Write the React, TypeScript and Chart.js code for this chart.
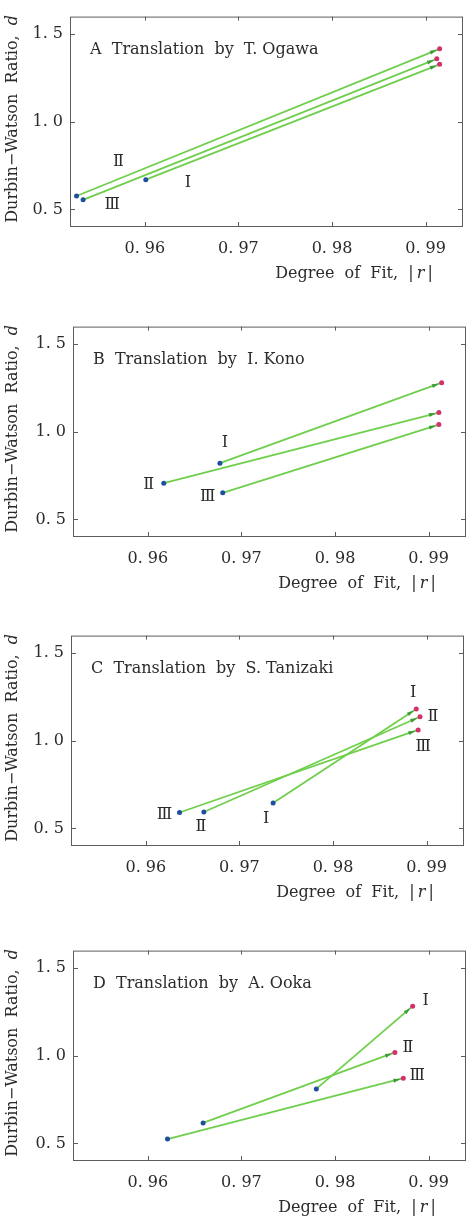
import { useEffect, useRef } from 'react';
import { Chart, registerables } from 'chart.js';

Chart.register(...registerables);

// axis ticks
const fitTicks = [0.96, 0.97, 0.98, 0.99];
const fitTickLabels = ['0. 96', '0. 97', '0. 98', '0. 99'];
const dwTicks = [0.5, 1.0, 1.5];
const dwTickLabels = ['0. 5', '1. 0', '1. 5'];
const seriesNames = ['Ⅰ', 'Ⅱ', 'Ⅲ'];

// A  Translation by T. Ogawa  (series I, II, III)
const fitStartA = [0.9601, 0.9527, 0.9534];
const dwStartA = [0.670, 0.577, 0.555];
const fitEndA = [0.9915, 0.9915, 0.9912];
const dwEndA = [1.328, 1.416, 1.359];

// B  Translation by I. Kono
const fitStartB = [0.9677, 0.9617, 0.9680];
const dwStartB = [0.821, 0.707, 0.652];
const fitEndB = [0.9914, 0.9911, 0.9911];
const dwEndB = [1.280, 1.110, 1.041];

// C  Translation by S. Tanizaki
const fitStartC = [0.9736, 0.9662, 0.9636];
const dwStartC = [0.645, 0.594, 0.591];
const fitEndC = [0.9889, 0.9893, 0.9891];
const dwEndC = [1.182, 1.137, 1.062];

// D  Translation by A. Ooka
const fitStartD = [0.9780, 0.9659, 0.9621];
const dwStartD = [0.811, 0.617, 0.525];
const fitEndD = [0.9883, 0.9864, 0.9873];
const dwEndD = [1.283, 1.019, 0.872];

const FONT = '"DejaVu Serif", "Liberation Serif", serif';
const NUM_FONT = '"DejaVu Serif", "Noto Sans CJK JP", serif';
const GREEN = '#6fcf4c';
const ARROW = '#3f9a3a';
const BLUE = '#1d4f9e';
const RED = '#d4306c';
const INK = '#2b2b2b';

type Label = { s: number; at: 0 | 1; dx: number; dy: number };

type PanelProps = {
  top: number;
  left: number;
  letter: string;
  translator: string;
  fitStart: number[];
  dwStart: number[];
  fitEnd: number[];
  dwEnd: number[];
  labels: Label[];
};

const W = 470;
const H = 285;
const BOX_W = 393;
const BOX_H = 224;

function drawSegments(ctx: CanvasRenderingContext2D, segs: [string, boolean][], x: number, y: number, align: 'center' | 'right') {
  const size = 16;
  const widths = segs.map(([t, it]) => {
    ctx.font = `${it ? 'italic ' : ''}${size}px ${FONT}`;
    return ctx.measureText(t).width;
  });
  const total = widths.reduce((a, b) => a + b, 0);
  let cx = align === 'center' ? x - total / 2 : x - total;
  ctx.textAlign = 'left';
  ctx.textBaseline = 'middle';
  segs.forEach(([t, it], i) => {
    ctx.font = `${it ? 'italic ' : ''}${size}px ${FONT}`;
    ctx.fillText(t, cx, y);
    cx += widths[i];
  });
}

function Panel(props: PanelProps) {
  const canvasRef = useRef<HTMLCanvasElement>(null);
  const chartRef = useRef<Chart | null>(null);

  useEffect(() => {
    if (!canvasRef.current) return;
    if (chartRef.current) chartRef.current.destroy();

    const { left, letter, translator, fitStart, dwStart, fitEnd, dwEnd, labels } = props;

    const decor = {
      id: 'decor',
      afterDraw(chart: any) {
        const { ctx, chartArea: a, scales } = chart;
        const x = scales.x;
        const y = scales.y;
        ctx.save();

        // frame with inward ticks on all four sides
        ctx.strokeStyle = '#5c5c5c';
        ctx.lineWidth = 1;
        ctx.strokeRect(a.left + 0.5, a.top + 0.5, a.right - a.left - 1, a.bottom - a.top - 1);
        ctx.beginPath();
        x.ticks.forEach((t: any) => {
          const px = Math.round(x.getPixelForValue(t.value)) + 0.5;
          ctx.moveTo(px, a.top);
          ctx.lineTo(px, a.top + 4);
          ctx.moveTo(px, a.bottom);
          ctx.lineTo(px, a.bottom - 5);
        });
        y.ticks.forEach((t: any) => {
          const py = Math.round(y.getPixelForValue(t.value)) + 0.5;
          ctx.moveTo(a.left, py);
          ctx.lineTo(a.left + 5, py);
          ctx.moveTo(a.right, py);
          ctx.lineTo(a.right - 5, py);
        });
        ctx.stroke();

        // arrowheads near the end points
        chart.data.datasets.forEach((_: any, i: number) => {
          const pts = chart.getDatasetMeta(i).data;
          const p0 = pts[0];
          const p1 = pts[1];
          const ang = Math.atan2(p1.y - p0.y, p1.x - p0.x);
          const tx = p1.x - 3 * Math.cos(ang);
          const ty = p1.y - 3 * Math.sin(ang);
          ctx.fillStyle = ARROW;
          ctx.beginPath();
          ctx.moveTo(tx, ty);
          ctx.lineTo(tx - 7 * Math.cos(ang) + 2 * Math.sin(ang), ty - 7 * Math.sin(ang) - 2 * Math.cos(ang));
          ctx.lineTo(tx - 7 * Math.cos(ang) - 2 * Math.sin(ang), ty - 7 * Math.sin(ang) + 2 * Math.cos(ang));
          ctx.closePath();
          ctx.fill();
        });

        ctx.fillStyle = INK;

        // panel title
        ctx.font = `16px ${FONT}`;
        ctx.textAlign = 'left';
        ctx.textBaseline = 'middle';
        ctx.fillText(`${letter}  Translation  by  ${translator}`, a.left + 20, a.top + 33);

        // series labels
        ctx.font = `16px ${NUM_FONT}`;
        ctx.textAlign = 'center';
        labels.forEach((l) => {
          const p = chart.getDatasetMeta(l.s).data[l.at];
          ctx.fillText(seriesNames[l.s], p.x + l.dx, p.y + l.dy);
        });

        // axis titles
        drawSegments(ctx, [['Degree  of  Fit,  |\u2009', false], ['r', true], ['\u2009|', false]], a.right - 30, a.bottom + 47, 'right');
        ctx.save();
        ctx.translate(13, (a.top + a.bottom) / 2 - 3);
        ctx.rotate(-Math.PI / 2);
        drawSegments(ctx, [['Durbin\u2212Watson  Ratio,  ', false], ['d', true]], 0, 0, 'center');
        ctx.restore();

        ctx.restore();
      },
    };

    chartRef.current = new Chart(canvasRef.current, {
      type: 'scatter',
      data: {
        datasets: seriesNames.map((name, i) => ({
          label: name,
          data: [
            { x: fitStart[i], y: dwStart[i] },
            { x: fitEnd[i], y: dwEnd[i] },
          ],
          showLine: true,
          borderColor: GREEN,
          borderWidth: 1.8,
          pointRadius: 2.5,
          pointBorderWidth: 0,
          pointBackgroundColor: [BLUE, RED],
        })),
      },
      options: {
        responsive: false,
        animation: false,
        layout: { padding: { top: 3, left: 0, right: W - left - BOX_W, bottom: 0 } },
        plugins: { legend: { display: false }, tooltip: { enabled: false } },
        scales: {
          x: {
            type: 'linear',
            min: 0.952,
            max: 0.994,
            grid: { display: false, drawTicks: false },
            border: { display: false },
            afterBuildTicks: (s: any) => {
              s.ticks = fitTicks.map((v) => ({ value: v }));
            },
            afterFit: (s: any) => {
              s.height = H - 3 - BOX_H;
            },
            ticks: {
              autoSkip: false,
              maxRotation: 0,
              padding: 12,
              color: INK,
              font: { family: FONT, size: 16 },
              callback: (_v: any, i: number) => fitTickLabels[i],
            },
          },
          y: {
            type: 'linear',
            min: 0.4,
            max: 1.6,
            grid: { display: false, drawTicks: false },
            border: { display: false },
            afterBuildTicks: (s: any) => {
              s.ticks = dwTicks.map((v) => ({ value: v }));
            },
            afterFit: (s: any) => {
              s.width = left;
            },
            ticks: {
              autoSkip: false,
              padding: 7,
              color: INK,
              font: { family: FONT, size: 16 },
              callback: (_v: any, i: number) => dwTickLabels[i],
            },
          },
        },
      },
      plugins: [decor],
    } as any);

    return () => {
      if (chartRef.current) {
        chartRef.current.destroy();
        chartRef.current = null;
      }
    };
  }, []);

  return (
    <div style={{ position: 'absolute', top: props.top, left: 0, width: W, height: H }}>
      <canvas ref={canvasRef} width={W} height={H} style={{ width: W, height: H }} />
    </div>
  );
}

export default function App() {
  return (
    <div style={{ position: 'absolute', top: 0, left: 0, width: W, height: 1221, background: '#fff' }}>
      <Panel
        top={0}
        left={70}
        letter="A"
        translator="T. Ogawa"
        fitStart={fitStartA}
        dwStart={dwStartA}
        fitEnd={fitEndA}
        dwEnd={dwEndA}
        labels={[
          { s: 1, at: 0, dx: 42, dy: -34 },
          { s: 2, at: 0, dx: 29, dy: 5 },
          { s: 0, at: 0, dx: 42, dy: 3 },
        ]}
      />
      <Panel
        top={310}
        left={73}
        letter="B"
        translator="I. Kono"
        fitStart={fitStartB}
        dwStart={dwStartB}
        fitEnd={fitEndB}
        dwEnd={dwEndB}
        labels={[
          { s: 0, at: 0, dx: 5, dy: -20 },
          { s: 1, at: 0, dx: -15, dy: 2 },
          { s: 2, at: 0, dx: -15, dy: 4 },
        ]}
      />
      <Panel
        top={619}
        left={71}
        letter="C"
        translator="S. Tanizaki"
        fitStart={fitStartC}
        dwStart={dwStartC}
        fitEnd={fitEndC}
        dwEnd={dwEndC}
        labels={[
          { s: 0, at: 1, dx: -3, dy: -16 },
          { s: 1, at: 1, dx: 13, dy: 0 },
          { s: 2, at: 1, dx: 5, dy: 17 },
          { s: 2, at: 0, dx: -15, dy: 2 },
          { s: 1, at: 0, dx: -3, dy: 15 },
          { s: 0, at: 0, dx: -7, dy: 16 },
        ]}
      />
      <Panel
        top={934}
        left={73}
        letter="D"
        translator="A. Ooka"
        fitStart={fitStartD}
        dwStart={dwStartD}
        fitEnd={fitEndD}
        dwEnd={dwEndD}
        labels={[
          { s: 0, at: 1, dx: 13, dy: -5 },
          { s: 1, at: 1, dx: 13, dy: -5 },
          { s: 2, at: 1, dx: 14, dy: -2 },
        ]}
      />
    </div>
  );
}
